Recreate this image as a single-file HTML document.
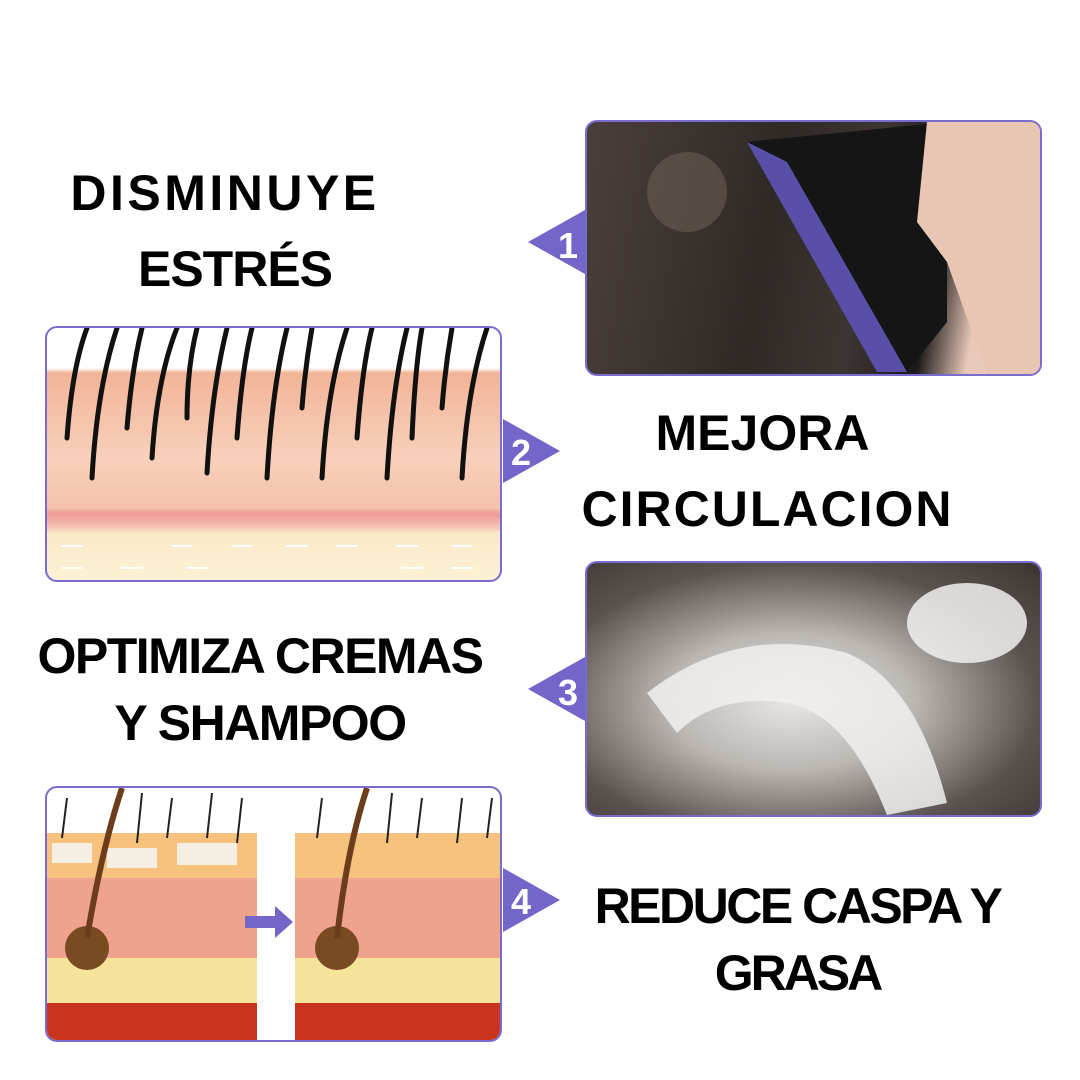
<!DOCTYPE html>
<html><head><meta charset="utf-8"><style>
body{margin:0;width:1080px;height:1080px;background:#fff;position:relative;overflow:hidden;font-family:"Liberation Sans",sans-serif}
.t{position:absolute;font-weight:bold;font-size:50px;color:#000;text-align:center;white-space:nowrap}
.img{position:absolute;width:453px;height:252px;border:2px solid #7a6bd0;border-radius:12px;overflow:hidden;box-sizing:content-box}
svg.b{position:absolute}
</style></head><body>
<div class="t" style="left:25px;width:400px;top:164px;letter-spacing:3.5px">DISMINUYE</div>
<div class="t" style="left:35px;width:400px;top:240px;letter-spacing:-1px">ESTRÉS</div>
<div class="t" style="left:560px;width:405px;top:404px;letter-spacing:0px">MEJORA</div>
<div class="t" style="left:565px;width:405px;top:480px;letter-spacing:2px">CIRCULACION</div>
<div class="t" style="left:20px;width:480px;top:627px;letter-spacing:-1.5px">OPTIMIZA CREMAS</div>
<div class="t" style="left:20px;width:480px;top:694px;letter-spacing:-1.5px">Y SHAMPOO</div>
<div class="t" style="left:570px;width:455px;top:877px;letter-spacing:-2.5px">REDUCE CASPA Y</div>
<div class="t" style="left:570px;width:455px;top:944px;letter-spacing:-3px">GRASA</div>

<div class="img" style="left:585px;top:120px;background:linear-gradient(100deg,#4a403b 0%,#2f2926 40%,#3d3532 60%,#1d1a1a 75%,#e8c8b8 85%,#f0d4c4 100%)">
<svg width="453" height="252"><ellipse cx="100" cy="70" rx="40" ry="40" fill="#6b5d55" opacity=".6"/><path d="M160 20 L360 0 L360 200 L320 250 L250 130Z" fill="#151515"/><path d="M160 20 L200 40 L320 250 L290 250Z" fill="#5a4fa8"/><path d="M340 0 L453 0 L453 252 L400 252 L360 140 L330 100Z" fill="#e9c6b4"/></svg></div>

<div class="img" style="left:45px;top:326px;background:linear-gradient(#fff 0,#fff 40px,#f2b497 45px,#f8d0bb 130px,#f5c2ac 180px,#ee9a94 186px,#f6c7b8 200px,#fbe9c8 205px,#fdf2d6 252px)">
<svg width="453" height="252" stroke="#111" stroke-width="5" fill="none" stroke-linecap="round">
<path d="M20 110 Q25 40 40 0M45 150 Q50 60 70 0M80 100 Q85 40 95 0M105 130 Q110 50 130 0M140 90 Q140 40 150 0M160 145 Q165 60 180 0M190 110 Q195 40 205 0M220 150 Q225 60 240 0M255 80 Q258 40 265 0M275 150 Q280 60 300 0M310 110 Q315 40 325 0M340 150 Q345 60 360 0M365 110 Q368 40 375 0M395 80 Q398 40 405 0M415 150 Q420 60 440 0"/>
<g stroke="#fff" stroke-width="2"><path d="M15 218h20M125 218h20M185 218h20M240 218h20M310 218h-20M370 218h-20M425 218h-20M35 240h-20M95 240h-20M160 240h-20M355 240h20M405 240h20"/></g></svg></div>

<div class="img" style="left:585px;top:561px;background:radial-gradient(ellipse at 45% 55%,#e8e6e4 0,#bbb6b2 35%,#5a524e 70%,#3b3532 100%)">
<svg width="453" height="252" fill="#f2f0ee" opacity=".85"><path d="M60 130 Q150 60 260 90 Q330 120 360 240 L300 252 Q260 150 200 140 Q130 130 90 170Z"/><ellipse cx="380" cy="60" rx="60" ry="40"/></svg></div>

<div class="img" style="left:45px;top:786px;background:#fff">
<svg width="453" height="252">
<g><rect x="0" y="45" width="210" height="45" fill="#f7c27e"/><rect x="0" y="90" width="210" height="80" fill="#f0a38c"/><rect x="0" y="170" width="210" height="45" fill="#f6e39a"/><rect x="0" y="215" width="210" height="37" fill="#c9341e"/>
<rect x="248" y="45" width="205" height="45" fill="#f7c27e"/><rect x="248" y="90" width="205" height="80" fill="#f0a38c"/><rect x="248" y="170" width="205" height="45" fill="#f6e39a"/><rect x="248" y="215" width="205" height="37" fill="#c9341e"/></g>
<g fill="#f5eee2"><rect x="5" y="55" width="40" height="20"/><rect x="60" y="60" width="50" height="20"/><rect x="130" y="55" width="60" height="22"/></g>
<circle cx="40" cy="160" r="22" fill="#7a4a22"/><circle cx="290" cy="160" r="22" fill="#7a4a22"/>
<path d="M40 150 Q55 60 75 0" stroke="#6b3d1a" stroke-width="6" fill="none"/><path d="M290 150 Q300 60 320 0" stroke="#6b3d1a" stroke-width="6" fill="none"/>
<g stroke="#222" stroke-width="2" fill="none"><path d="M15 50 L20 10M90 55L95 5M120 50L125 10M160 50L165 5M190 55L195 10M270 50L275 10M340 55L345 5M370 50L375 10M410 55L415 10M440 50L445 10"/></g>
<path d="M198 128h30v-10l18 16-18 16v-10h-30z" fill="#7466c9"/></svg></div>

<svg class="b" style="left:528px;top:208px" width="58" height="68"><polygon points="0,34 57,2 57,66" fill="#7466c9"/><text x="40" y="50" font-family="Liberation Sans" font-weight="bold" font-size="36" fill="#fff" text-anchor="middle">1</text></svg>
<svg class="b" style="left:503px;top:417px" width="58" height="68"><polygon points="57,34 0,2 0,66" fill="#7466c9"/><text x="18" y="48" font-family="Liberation Sans" font-weight="bold" font-size="36" fill="#fff" text-anchor="middle">2</text></svg>
<svg class="b" style="left:528px;top:655px" width="58" height="68"><polygon points="0,34 57,2 57,66" fill="#7466c9"/><text x="40" y="50" font-family="Liberation Sans" font-weight="bold" font-size="36" fill="#fff" text-anchor="middle">3</text></svg>
<svg class="b" style="left:503px;top:866px" width="58" height="68"><polygon points="57,34 0,2 0,66" fill="#7466c9"/><text x="18" y="48" font-family="Liberation Sans" font-weight="bold" font-size="36" fill="#fff" text-anchor="middle">4</text></svg>
</body></html>
